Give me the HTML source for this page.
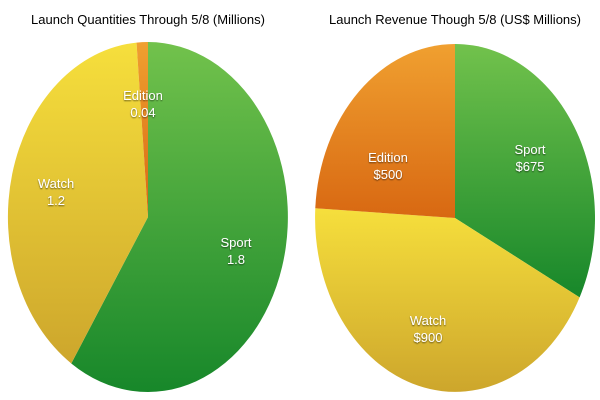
<!DOCTYPE html>
<html><head><style>
html,body{margin:0;padding:0;background:#fff;}
svg{display:block;}
text{font-family:"Liberation Sans",sans-serif;}
.l{fill:#fff;font-size:13px;text-anchor:middle;}
</style></head><body>
<svg width="600" height="400" viewBox="0 0 600 400">
<defs>
<linearGradient id="g" x1="0" y1="0" x2="0" y2="1"><stop offset="0" stop-color="#72c24c"/><stop offset="1" stop-color="#17872a"/></linearGradient>
<linearGradient id="y" x1="0" y1="0" x2="0" y2="1"><stop offset="0" stop-color="#f6df3c"/><stop offset="1" stop-color="#cda62c"/></linearGradient>
<linearGradient id="o" x1="0" y1="0" x2="0" y2="1"><stop offset="0" stop-color="#f0a030"/><stop offset="1" stop-color="#d86812"/></linearGradient>
<filter id="s"><feDropShadow dx="0" dy="1" stdDeviation="0.8" flood-color="#000" flood-opacity="0.6"/></filter>
</defs>
<text x="148" y="24" font-size="13" text-anchor="middle">Launch Quantities Through 5/8 (Millions)</text>
<text x="455" y="24" font-size="13" text-anchor="middle">Launch Revenue Though 5/8 (US$ Millions)</text>
<g transform="translate(148,217) scale(140,175)">
<path d="M0,0 L0,-1 A1,1 0 1 1 -0.548,0.837 Z" fill="url(#g)"/>
<path d="M0,0 L-0.548,0.837 A1,1 0 0 1 -0.082,-0.9966 Z" fill="url(#y)"/>
<path d="M0,0 L-0.082,-0.9966 A1,1 0 0 1 0,-1 Z" fill="url(#o)"/>
</g>
<g transform="translate(455,218) scale(140,174)">
<path d="M0,0 L0,-1 A1,1 0 0 1 0.890,0.456 Z" fill="url(#g)"/>
<path d="M0,0 L0.890,0.456 A1,1 0 0 1 -0.998,-0.056 Z" fill="url(#y)"/>
<path d="M0,0 L-0.998,-0.056 A1,1 0 0 1 0,-1 Z" fill="url(#o)"/>
</g>
<g filter="url(#s)">
<text class="l" x="143" y="100">Edition</text><text class="l" x="143" y="117">0.04</text>
<text class="l" x="56" y="188">Watch</text><text class="l" x="56" y="205">1.2</text>
<text class="l" x="236" y="247">Sport</text><text class="l" x="236" y="264">1.8</text>
<text class="l" x="388" y="162">Edition</text><text class="l" x="388" y="179">$500</text>
<text class="l" x="530" y="154">Sport</text><text class="l" x="530" y="171">$675</text>
<text class="l" x="428" y="325">Watch</text><text class="l" x="428" y="342">$900</text>
</g>
</svg>
</body></html>
